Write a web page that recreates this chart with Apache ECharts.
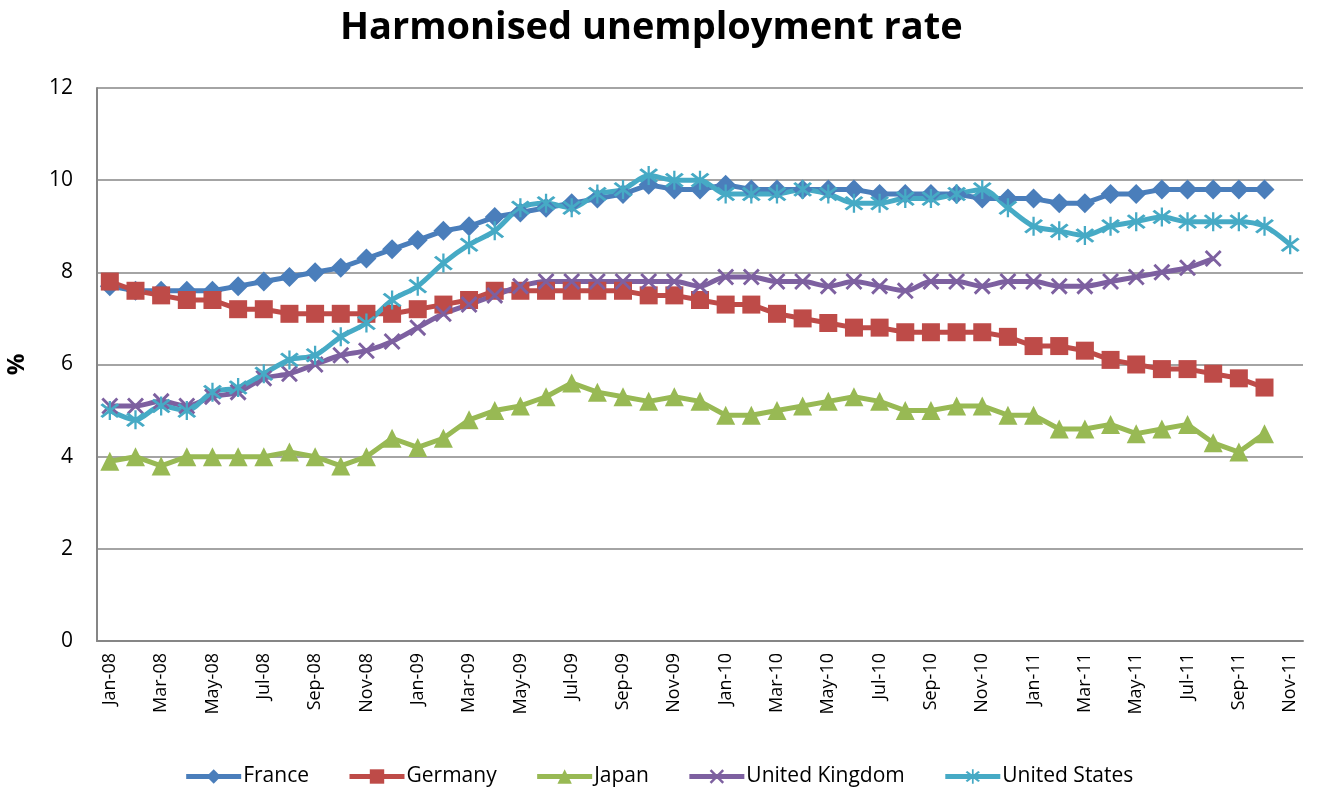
<!DOCTYPE html>
<html><head><meta charset="utf-8">
<script src="https://cdn.jsdelivr.net/npm/echarts@6/dist/echarts.min.js"></script>
<style>html,body{margin:0;padding:0;background:#fff}#c{width:1317px;height:796px}</style>
</head><body><div id="c"></div>
<script>
const months = ["Jan-08","Feb-08","Mar-08","Apr-08","May-08","Jun-08","Jul-08","Aug-08","Sep-08","Oct-08","Nov-08","Dec-08",
"Jan-09","Feb-09","Mar-09","Apr-09","May-09","Jun-09","Jul-09","Aug-09","Sep-09","Oct-09","Nov-09","Dec-09",
"Jan-10","Feb-10","Mar-10","Apr-10","May-10","Jun-10","Jul-10","Aug-10","Sep-10","Oct-10","Nov-10","Dec-10",
"Jan-11","Feb-11","Mar-11","Apr-11","May-11","Jun-11","Jul-11","Aug-11","Sep-11","Oct-11","Nov-11"];
const france = [7.7,7.6,7.6,7.6,7.6,7.7,7.8,7.9,8.0,8.1,8.3,8.5,8.7,8.9,9.0,9.2,9.3,9.4,9.5,9.6,9.7,9.9,9.8,9.8,9.9,9.8,9.8,9.8,9.8,9.8,9.7,9.7,9.7,9.7,9.6,9.6,9.6,9.5,9.5,9.7,9.7,9.8,9.8,9.8,9.8,9.8,null];
const germany = [7.8,7.6,7.5,7.4,7.4,7.2,7.2,7.1,7.1,7.1,7.1,7.1,7.2,7.3,7.4,7.6,7.6,7.6,7.6,7.6,7.6,7.5,7.5,7.4,7.3,7.3,7.1,7.0,6.9,6.8,6.8,6.7,6.7,6.7,6.7,6.6,6.4,6.4,6.3,6.1,6.0,5.9,5.9,5.8,5.7,5.5,null];
const japan = [3.9,4.0,3.8,4.0,4.0,4.0,4.0,4.1,4.0,3.8,4.0,4.4,4.2,4.4,4.8,5.0,5.1,5.3,5.6,5.4,5.3,5.2,5.3,5.2,4.9,4.9,5.0,5.1,5.2,5.3,5.2,5.0,5.0,5.1,5.1,4.9,4.9,4.6,4.6,4.7,4.5,4.6,4.7,4.3,4.1,4.5,null];
const uk = [5.1,5.1,5.2,5.1,5.3,5.4,5.7,5.8,6.0,6.2,6.3,6.5,6.8,7.1,7.3,7.5,7.7,7.8,7.8,7.8,7.8,7.8,7.8,7.7,7.9,7.9,7.8,7.8,7.7,7.8,7.7,7.6,7.8,7.8,7.7,7.8,7.8,7.7,7.7,7.8,7.9,8.0,8.1,8.3,null,null,null];
const us = [5.0,4.8,5.1,5.0,5.4,5.5,5.8,6.1,6.2,6.6,6.9,7.4,7.7,8.2,8.6,8.9,9.4,9.5,9.4,9.7,9.8,10.1,10.0,10.0,9.7,9.7,9.7,9.8,9.7,9.5,9.5,9.6,9.6,9.7,9.8,9.4,9.0,8.9,8.8,9.0,9.1,9.2,9.1,9.1,9.1,9.0,8.6];
const yTicks = [0,2,4,6,8,10,12];

const X_PATH = 'path://M0,1.2 L1.2,0 L10,8.8 L8.8,10 Z M8.8,0 L10,1.2 L1.2,10 L0,8.8 Z';
const STAR_PATH = 'path://M0,1.2 L1.2,0 L10,8.8 L8.8,10 Z M8.8,0 L10,1.2 L1.2,10 L0,8.8 Z M4.4,-1.5 L5.6,-1.5 L5.6,11.5 L4.4,11.5 Z';
const FONT = 'Open Sans';

function mk(name, data, color, symbol, size, smooth){
  return {name, type:'line', data, smooth: smooth||false, symbol, symbolSize:size,
    showAllSymbol:true, connectNulls:false,
    lineStyle:{color, width:5}, itemStyle:{color}};
}
const chart = echarts.init(document.getElementById('c'));
chart.setOption({
  animation:false,
  title:{text:'Harmonised unemployment rate', left:335, top:4,
    textStyle:{fontFamily:FONT, fontWeight:'bold', fontSize:38, color:'#000'}},
  grid:{left:97, right:14, top:88, bottom:155, containLabel:false, outerBoundsMode:'none'},
  legend:{bottom:4, left:'center', itemWidth:55, itemHeight:18, itemGap:38,
    lineStyle:{width:5},
    textStyle:{fontFamily:FONT, fontSize:21, color:'#000', padding:[0,0,0,-3]},
    data:['France','Germany','Japan','United Kingdom','United States']},
  xAxis:{type:'category', data:months, boundaryGap:true,
    axisLine:{lineStyle:{color:'#868686', width:2}},
    axisTick:{show:false},
    axisLabel:{interval:1, rotate:90, fontFamily:FONT, fontSize:18, color:'#000', margin:12}},
  yAxis:{type:'value', min:0, max:12, interval:2,
    name:'%', nameLocation:'middle', nameGap:68, nameRotate:90,
    nameTextStyle:{fontFamily:FONT, fontWeight:'bold', fontSize:24, color:'#000'},
    axisLine:{show:true, lineStyle:{color:'#868686', width:2}},
    axisTick:{show:false},
    axisLabel:{fontFamily:FONT, fontSize:21, color:'#000', margin:24,
      formatter:v=>yTicks.includes(v)?String(v):''},
    splitLine:{lineStyle:{color:'#868686', width:1.5}}},
  series:[
    mk('France', france, '#4A7EBB', 'diamond', 20),
    mk('Germany', germany, '#BE4B48', 'rect', 18),
    mk('Japan', japan, '#98B954', 'triangle', 19),
    mk('United Kingdom', uk, '#7D60A0', X_PATH, 17, 0.3),
    mk('United States', us, '#46AAC5', STAR_PATH, 19, 0.3)
  ]
});
</script></body></html>
